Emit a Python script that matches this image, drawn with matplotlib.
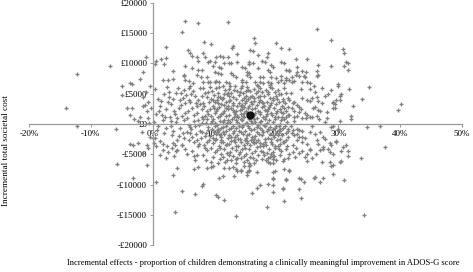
import numpy as np
import matplotlib
matplotlib.use("Agg")
import matplotlib.pyplot as plt

# ---- data: (incremental effect %, incremental cost £) ----
west_pts = [(-12.3, 8300), (-14.0, 2600), (-6.9, 9600), (-5.0, 6300), (-3.4, 6600), (-3.6, 6800),
            (-2.1, 7400), (-1.5, 8600), (-1.1, 11100), (-4.9, 4800), (-4.2, 2600), (-3.4, 2600),
            (-3.6, 1500), (-3.1, 800), (-1.5, 3000), (-1.0, 2100), (-2.4, 500), (-0.8, 1000),
            (-0.6, 100), (-1.5, 4500), (-1.1, 5300), (-0.8, 3600), (-2.1, 1200), (-1.3, 3100),
            (-0.4, 6200), (-0.3, 2700),
            (-12.3, -300), (-6.0, -800), (-5.8, -6600), (-3.2, -8900), (-1.0, -6800), (-3.7, -3300),
            (-2.4, -3100), (-1.0, -3500), (-3.2, -3500), (-1.5, -4800), (-0.8, -4000), (-1.8, -1300),
            (-0.5, -2200)]

north_pts = [(0.3, 9900), (0.5, 10400), (1.3, 10700), (2.1, 10900), (1.9, 9900), (2.1, 12700),
             (5.2, 17000), (4.8, 15200), (7.4, 16700), (12.1, 16900), (8.3, 13600), (9.5, 13200),
             (12.9, 12900), (12.8, 12600), (5.7, 12300), (6.1, 11700), (6.3, 11200), (8.2, 11700),
             (7.1, 11100), (7.3, 10400), (8.4, 11100), (9.0, 10200), (5.3, 9600), (5.0, 8100),
             (5.0, 7900), (6.3, 9300), (3.2, 8800), (1.6, 7300), (2.4, 7300), (3.2, 7400), (5.3, 7300),
             (5.8, 7100), (6.5, 6800), (7.4, 8900), (7.9, 8900), (7.1, 8100), (7.8, 7800), (8.7, 7800),
             (8.2, 6900), (9.0, 6900),
             (16.3, 14200), (16.5, 13400), (15.7, 12200), (16.2, 12100), (20.0, 13400), (20.7, 12600),
             (22.0, 12400), (17.1, 11400), (18.7, 11700), (13.7, 11600), (18.4, 11100), (10.2, 11100),
             (10.8, 11200), (11.3, 11100), (12.1, 11100), (9.2, 10400), (10.0, 10200), (13.7, 10200),
             (15.5, 10200), (16.2, 10100), (17.6, 10400), (18.1, 10200), (20.8, 10200), (21.2, 10100),
             (11.6, 10100), (12.3, 10100), (12.6, 10100), (9.7, 9600), (10.7, 9400), (11.0, 9300),
             (14.4, 9400), (14.9, 9300), (15.5, 9900), (17.0, 9300), (19.1, 9800), (19.5, 9400),
             (18.6, 8900), (18.9, 8600), (21.5, 8900), (22.0, 8800), (10.0, 8600), (10.5, 8400),
             (11.1, 8300), (12.6, 8400), (12.9, 8100), (13.4, 7800), (15.2, 8600), (15.5, 8400),
             (15.8, 7800), (15.2, 8100), (17.3, 7800), (17.9, 7800), (19.2, 7800), (19.9, 7600),
             (20.8, 7900), (21.5, 7300), (21.6, 7600), (9.2, 6900), (10.0, 6900), (10.3, 7100),
             (10.7, 6900), (11.8, 6900), (12.4, 6800), (14.4, 6900), (14.5, 7300), (15.0, 6900),
             (16.5, 6900), (17.4, 6900), (17.8, 6800), (18.6, 6900), (19.2, 6800), (20.2, 6900),
             (20.8, 7300), (21.3, 6800),
             (26.5, 15700), (28.9, 13900), (30.7, 12400), (30.9, 11700), (31.3, 10200), (31.5, 10100),
             (31.0, 9600), (31.5, 8900), (28.8, 9600), (26.7, 9800), (25.0, 10700), (23.1, 10700),
             (23.4, 9400), (22.1, 8900), (23.3, 8600), (24.2, 8800), (24.7, 8600), (26.5, 8800),
             (26.7, 8100), (26.5, 7900), (22.5, 7800), (23.1, 8100), (23.7, 7900), (24.4, 7900),
             (24.6, 7800), (22.1, 7300), (22.5, 6900), (22.9, 7100), (24.1, 6900), (25.0, 6900),
             (25.4, 6800), (29.9, 6600)]

east_pts = [(34.9, 6100), (31.7, 5800), (33.9, 4100), (40.2, 3300), (39.6, 2300), (32.3, 3000),
            (32.1, 1300), (32.0, 800), (34.7, -500), (36.8, -300), (30.4, 5000), (29.9, 6300),
            (28.8, 5600), (28.4, 5000), (29.6, 4000), (29.2, 3500), (29.1, 2600), (29.4, 2600),
            (27.9, 300), (28.8, -500), (30.2, 4600), (30.0, -800), (29.2, -300), (29.4, 3300),
            (29.1, 3600), (30.2, 4000), (25.4, 5800), (26.2, 5300), (26.5, 4500), (24.2, 4300),
            (24.9, 4000), (25.4, 3800), (25.8, 4300), (26.7, 3800), (27.3, 3500), (26.3, 2800),
            (26.7, 2300), (27.1, 2100), (22.1, 4000), (22.6, 3500), (22.9, 3600), (23.3, 3100),
            (23.6, 2800), (22.5, 2600), (22.9, 2100), (23.7, 2000), (24.6, 1800), (25.0, 1500),
            (22.1, 1500), (22.9, 1200), (23.4, 1300), (24.1, 1000), (24.7, 1000), (25.4, 1200),
            (25.8, 1200), (26.5, 1300), (28.1, 1000), (30.2, 500), (22.6, -1000), (23.3, -800),
            (23.7, -1000), (24.2, -1200), (22.5, -1500), (22.9, -1800), (23.4, -1700), (24.1, -2100),
            (24.6, -2300), (23.3, -2600), (24.1, -3000), (22.6, -3500), (25.4, -1300), (26.2, -1700),
            (27.0, -1300), (27.5, -2100), (26.5, -2600), (28.6, -3100), (29.7, -3000), (30.7, -3800),
            (31.3, -3500), (27.5, -3800), (27.0, -4300), (28.6, -4600), (25.4, -4300), (24.6, -5500),
            (23.7, -4800), (22.6, -4600), (25.8, -5600), (27.3, -6300), (28.6, -6300), (30.2, -6300),
            (37.5, -3800), (33.7, -5600), (31.5, -4500), (31.5, -5300), (30.4, -4500), (30.5, -6100),
            (29.2, -5000), (25.0, -6100), (24.9, -5000), (24.2, -4500), (25.5, -4100), (27.6, -4100),
            (28.4, -4100), (29.6, -2800), (28.8, -3500), (26.8, -3300), (23.1, -4000)]

south_pts = [(30.9, -9300), (29.1, -6800), (29.1, -8300), (26.0, -8900), (27.5, -8900), (27.1, -9600),
             (34.2, -15000), (23.9, -9100), (24.4, -9600), (23.7, -10700), (23.9, -12200),
             (21.2, -12700), (18.4, -13700), (13.5, -15200), (21.5, -9100), (21.0, -10700),
             (19.4, -9100), (19.5, -10100), (18.7, -9900), (22.0, -7600), (21.2, -7400),
             (19.7, -7800), (18.9, -6400), (19.4, -6400), (17.4, -10100), (16.8, -10600),
             (16.0, -11400), (15.5, -7800), (15.3, -8400), (16.8, -7900), (15.7, -6800),
             (21.5, -4100), (22.0, -5000), (21.2, -5800), (21.8, -5600), (19.7, -3600), (20.4, -4100),
             (19.1, -5000), (19.5, -5300), (18.7, -5600), (19.4, -5800), (13.4, -5800), (14.2, -5600),
             (14.7, -5300), (13.4, -7400), (14.2, -7600), (14.7, -6900), (15.5, -6400),
             (0.5, -9600), (3.6, -14500), (3.2, -8400), (3.9, -7300), (4.8, -11100), (6.9, -11600),
             (8.1, -9900), (8.0, -10300), (6.6, -7400), (7.3, -7100), (8.7, -7300), (9.5, -7100),
             (9.7, -6900), (10.3, -11700), (10.5, -12100), (11.6, -12600), (10.7, -8900),
             (11.3, -8600), (11.5, -7300), (12.3, -7300), (12.9, -7100), (13.2, -8600), (13.6, -7800),
             (14.2, -7800), (15.3, -7900), (15.5, -7600), (15.5, -6900), (19.4, -8900), (19.5, -7900),
             (19.5, -11200), (21.0, -10600), (21.5, -9300), (22.0, -7800), (23.7, -8900),
             (26.2, -8800), (28.9, -6900), (0.2, -3100), (0.6, -3600), (0.0, -2300), (1.1, -2800),
             (1.6, -3300), (2.3, -3600), (3.1, -4000), (3.7, -4500), (3.2, -3100), (4.7, -3500),
             (2.1, -5600)]

core_left_pts = [(0.3, 5800), (0.8, 4200), (1.2, 2900), (0.5, 1700), (1.6, 600), (0.9, -400),
                 (1.8, -1500), (0.4, -2300), (1.3, 3800), (1.9, 4900), (0.7, -1000), (1.5, 1500),
                 (1.1, -5200), (1.7, -4300), (0.2, 300),
                 (2.3, 6100), (2.6, 4500), (3.0, 3300), (3.4, 2200), (2.8, 1100), (3.7, 300),
                 (2.2, -700), (3.1, -1800), (3.9, -2600), (2.5, -4600), (3.5, -5300), (3.8, 5200),
                 (2.1, 2500), (3.3, 4100), (2.9, -300), (3.6, 1600), (2.4, 3600), (3.2, -1100),
                 (4.1, 6000), (4.5, 5200), (4.9, 4300), (5.3, 3500), (4.3, 2700), (5.7, 2100),
                 (4.7, 1400), (5.1, 700), (5.9, -100), (4.4, -600), (5.5, -1300), (4.2, -2000),
                 (5.8, -2700), (4.8, -3400), (5.2, -4200), (5.6, -5000), (4.6, 3100), (5.4, 4800),
                 (5.0, 5700), (4.0, 1000), (5.9, 3900), (4.9, -1500), (5.3, 1900),
                 (6.1, 6200), (6.5, 5500), (6.9, 4700), (7.3, 4000), (7.7, 3300), (6.3, 2600),
                 (7.1, 1900), (7.9, 1200), (6.7, 500), (7.5, -200), (6.2, -900), (7.0, -1600),
                 (7.8, -2300), (6.6, -3000), (7.4, -3700), (6.4, -4500), (7.2, -5200), (6.8, -6000),
                 (7.6, 5900), (6.0, 3600), (7.9, 4600), (6.6, 1500), (7.3, 600), (6.9, -400),
                 (7.7, -1200), (6.3, -2200), (7.1, 2900), (7.5, -3300), (6.1, -500),
                 (8.1, 6000), (8.4, 5100), (8.8, 4400), (9.1, 3700), (8.3, 2900), (8.7, 2200),
                 (9.0, 1600), (8.2, 900), (8.6, 200), (8.9, -500), (8.0, -1300), (8.5, -2000),
                 (9.1, -2700), (8.3, -3500), (8.8, -4300), (8.1, -5100), (8.6, -5900), (9.0, 5300),
                 (8.4, 1300), (8.9, -1000), (8.2, 3500), (8.7, -3000),
                 (2.7, 5300), (4.4, 4000), (6.2, 4900), (8.0, 2500), (3.6, -3400), (5.0, -2300),
                 (6.0, -1500), (7.9, 200), (2.0, 1200), (5.6, 1000), (7.0, 3400), (8.6, -1500),
                 (4.0, -4300), (6.6, -5300), (8.4, -4000), (1.0, 2100), (3.0, 500), (5.8, 5900),
                 (7.2, -2600), (8.8, 800)]

core_pts = [(9.3, 6100), (9.6, 5400), (9.9, 4800), (9.4, 4200), (10.1, 3600), (9.7, 3000), (9.3, 2400),
            (10.0, 1900), (9.5, 1300), (9.8, 800), (9.4, 200), (10.1, -300), (9.6, -900), (9.9, -1400),
            (9.3, -2000), (10.0, -2600), (9.7, -3200), (9.4, -3900), (10.1, -4600), (9.8, -5400),
            (9.5, -6200), (9.9, 2700), (9.6, 500), (10.2, -1700),
            (10.3, 5900), (10.6, 5200), (10.9, 4500), (10.4, 3900), (11.1, 3300), (10.7, 2800),
            (10.3, 2100), (11.0, 1600), (10.5, 1100), (10.8, 500), (10.4, -100), (11.1, -600),
            (10.6, -1200), (10.9, -1800), (10.3, -2400), (11.0, -3000), (10.7, -3600), (10.4, -4300),
            (11.1, -5000), (10.8, -5800), (10.5, -6500), (11.2, 4100), (10.8, 1300), (10.5, -800),
            (11.0, -2200), (10.6, 3400),
            (11.3, 6300), (11.7, 5600), (12.0, 4900), (11.4, 4300), (11.9, 3700), (11.6, 3100),
            (12.1, 2500), (11.3, 1900), (11.8, 1400), (11.5, 700), (12.0, 100), (11.4, -500),
            (11.9, -1100), (11.6, -1700), (12.1, -2300), (11.3, -2900), (11.8, -3500), (11.5, -4100),
            (12.0, -4800), (11.4, -5500), (11.7, -6300), (12.2, 3000), (11.5, 2200), (11.9, -400),
            (11.3, 400), (12.1, 5200),
            (12.3, 5800), (12.7, 5100), (13.0, 4400), (12.4, 3800), (12.9, 3200), (12.6, 2600),
            (13.1, 2000), (12.3, 1500), (12.8, 900), (12.5, 300), (13.0, -300), (12.4, -900),
            (12.9, -1500), (12.6, -2100), (13.1, -2700), (12.3, -3300), (12.8, -3900), (12.5, -4600),
            (13.0, -5300), (12.7, -6000), (12.4, 4600), (13.1, 1200), (12.6, -600), (12.9, 2300),
            (12.3, -1900), (13.0, 3500), (12.5, 6300),
            (13.3, 6200), (13.7, 5500), (14.0, 4800), (13.4, 4100), (13.9, 3500), (13.6, 2900),
            (14.1, 2300), (13.3, 1700), (13.8, 1100), (13.5, 600), (14.0, 0), (13.4, -600),
            (13.9, -1200), (13.6, -1800), (14.1, -2400), (13.3, -3000), (13.8, -3600), (13.5, -4300),
            (14.0, -5000), (13.7, -5700), (13.4, -6400), (14.2, 3000), (13.6, 1400), (13.9, -300),
            (13.3, -2100), (14.1, 5300), (13.7, 300),
            (14.3, 5900), (14.6, 5200), (15.0, 4600), (14.4, 4000), (14.9, 3400), (14.7, 2800),
            (15.1, 2200), (14.3, 1700), (14.8, 1200), (14.5, 700), (15.0, 100), (14.4, -500),
            (14.9, -1100), (14.6, -1700), (15.1, -2300), (14.3, -2900), (14.8, -3500), (14.5, -4200),
            (15.0, -4900), (14.7, -6200), (14.4, 2500), (15.1, 3800), (14.6, -200), (14.9, -2600),
            (14.3, 900), (15.0, 5500), (14.7, 1900),
            (15.3, 6100), (15.7, 5400), (16.0, 4700), (15.4, 4100), (15.9, 3600), (15.6, 3000),
            (16.1, 2400), (15.3, 1900), (15.8, 1300), (15.5, 800), (16.0, 200), (15.4, -400),
            (15.9, -1000), (15.6, -1600), (16.1, -2200), (15.3, -2800), (15.8, -3400), (15.5, -4100),
            (16.0, -4800), (15.7, -5500), (15.4, 2600), (16.1, 3300), (15.6, -700), (15.9, 500),
            (15.3, -1900), (16.2, -3000), (15.7, 4400),
            (16.3, 5800), (16.7, 5100), (17.0, 4400), (16.4, 3800), (16.9, 3200), (16.6, 2700),
            (17.1, 2100), (16.3, 1500), (16.8, 1000), (16.5, 400), (17.0, -200), (16.4, -800),
            (16.9, -1400), (16.6, -2000), (17.1, -2600), (16.3, -3200), (16.8, -3800), (16.5, -4500),
            (17.0, -5200), (16.7, -5900), (16.4, -6500), (17.2, 3700), (16.6, 1800), (16.9, -500),
            (16.3, -2400), (17.1, 6200),
            (17.3, 6000), (17.7, 5300), (18.0, 4600), (17.4, 4000), (17.9, 3400), (17.6, 2800),
            (18.1, 2300), (17.3, 1700), (17.8, 1100), (17.5, 500), (18.0, -100), (17.4, -700),
            (17.9, -1300), (17.6, -1900), (18.1, -2500), (17.3, -3100), (17.8, -3700), (17.5, -4400),
            (18.0, -5100), (17.7, -5800), (17.4, 2000), (18.1, 800), (17.6, -1000), (17.9, -3300),
            (17.3, 4700),
            (18.3, 5700), (18.7, 5000), (19.0, 4300), (18.4, 3700), (18.9, 3100), (18.6, 2500),
            (19.1, 1900), (18.3, 1300), (18.8, 700), (18.5, 100), (19.0, -500), (18.4, -1100),
            (18.9, -1700), (18.6, -2300), (19.1, -2900), (18.3, -3500), (18.8, -4100), (18.5, -4800),
            (19.0, -5500), (18.7, -6200), (18.4, 2200), (19.1, 3500), (18.6, -800), (18.9, 6100),
            (19.3, 6000), (19.7, 5300), (20.0, 4600), (19.4, 3900), (19.9, 3300), (19.6, 2700),
            (20.1, 2100), (19.3, 1500), (19.8, 900), (19.5, 300), (20.0, -300), (19.4, -900),
            (19.9, -1500), (19.6, -2100), (20.1, -2700), (19.3, -3300), (19.8, -4000), (19.5, -4700),
            (20.0, -6000), (19.7, 1200), (19.4, -1800), (20.1, 4100),
            (20.3, 5600), (20.7, 4900), (21.0, 4200), (20.4, 3600), (20.9, 3000), (20.6, 2400),
            (21.1, 1800), (20.3, 1200), (20.8, 600), (20.5, 0), (21.0, -600), (20.4, -1200),
            (20.9, -1800), (20.6, -2400), (21.1, -3000), (20.3, -3600), (20.8, -4400), (20.5, -5200),
            (21.0, -6100), (20.7, 2000), (20.4, -400),
            (21.3, 5900), (21.6, 5100), (21.9, 4300), (21.4, 3500), (21.8, 2800), (21.5, 2100),
            (21.9, 1500), (21.3, 900), (21.7, 300), (21.4, -300), (21.8, -900), (21.5, -1500),
            (21.9, -2200), (21.3, -2900), (21.7, -3600), (21.5, 1200), (21.8, -1100)]

core_fill_pts = [(9.8, 3900), (10.4, 2500), (11.3, -1400), (12.2, 700), (12.7, -2800), (13.5, 2100),
                 (14.2, -1400), (14.8, 4300), (15.2, 200), (15.9, -2600), (16.4, 900), (17.2, -1700),
                 (17.6, 3600), (18.2, -400), (18.8, 2800), (19.2, -2400), (19.9, 1800), (20.6, -900),
                 (21.2, 2600), (10.9, -4000), (12.4, -5200), (14.1, -4600), (16.2, -5600),
                 (17.9, -4700), (19.6, -5300), (11.6, 5000), (13.2, 5600), (15.4, 5600), (17.1, 5500),
                 (18.7, 5300), (20.4, 5000), (10.1, 200), (11.8, 2600), (13.1, -1100), (14.6, 1400),
                 (16.1, 1700), (17.4, 300), (18.5, 1600), (19.8, -600), (20.9, 1100), (9.7, -2300),
                 (12.0, -3300), (13.8, -2500), (15.2, -3200), (16.7, -3000), (18.2, -2900),
                 (20.2, -1900), (21.5, -2600), (10.6, 4500), (12.5, 4000), (14.4, 3100), (16.3, 4300),
                 (18.0, 3000), (19.5, 4300), (21.1, 3800), (11.1, -2700), (14.9, -3900), (17.3, -3600),
                 (20.6, -3300), (13.5, -3700), (10.7, 6100), (14.5, 6300), (16.9, 6400), (19.0, 6500),
                 (12.0, -5900), (15.2, -5900), (18.3, -6000),
                 (22.8, 500), (24.0, 2400), (25.7, -300), (26.9, 800), (23.6, -2200), (25.0, -3300),
                 (27.8, -2400), (22.3, 5100), (24.0, 5800), (26.0, 6200), (27.9, 4600), (23.0, -5400),
                 (26.4, -5000), (28.2, 2000), (27.4, 6000), (22.4, -300), (25.9, 2700)]

mean_effect = [15.7]
mean_cost = [1500]

x_ticks = [-20, -10, 0, 10, 20, 30, 40, 50]
x_tick_labels = ["-20%", "-10%", "0%", "10%", "20%", "30%", "40%", "50%"]
y_ticks = [-20000, -15000, -10000, -5000, 0, 5000, 10000, 15000, 20000]
y_tick_labels = ["-£20000", "-£15000", "-£10000", "-£5000", "£0", "£5000", "£10000", "£15000", "£20000"]

x_label = "Incremental effects - proportion of children demonstrating a clinically meaningful improvement in ADOS-G score"
y_label = "Incremental total societal cost"

# ---- plotting ----
plt.rcParams['font.family'] = ['Liberation Serif', 'DejaVu Serif']

W, H = 473, 272
fig = plt.figure(figsize=(W / 100, H / 100), dpi=100)
ax = fig.add_axes([29 / W, 1 - 245 / H, (462 - 29) / W, (245 - 3) / H])

all_pts = np.array(west_pts + north_pts + east_pts + south_pts + core_left_pts + core_pts
                   + core_fill_pts)
ax.plot(all_pts[:, 0], all_pts[:, 1], linestyle='none', marker='+', markersize=2.8,
        markeredgewidth=0.95, color='#828282', clip_on=False)
ax.plot(mean_effect, mean_cost, linestyle='none', marker='o', markersize=5,
        color='#111111', clip_on=False)

ax.set_xlim(-20, 50)
ax.set_ylim(-20000, 20000)

axis_col = '#9a9a9a'
for s in ['top', 'right']:
    ax.spines[s].set_visible(False)
ax.spines['left'].set_position(('data', 0))
ax.spines['bottom'].set_position(('data', 0))
for s in ['left', 'bottom']:
    ax.spines[s].set_color(axis_col)
    ax.spines[s].set_linewidth(0.9)

ax.set_xticks(x_ticks)
ax.set_xticklabels(x_tick_labels)
ax.set_yticks(y_ticks)
ax.set_yticklabels(y_tick_labels)
ax.tick_params(axis='both', direction='out', length=2.5, width=0.7, color=axis_col,
               labelsize=6.5, labelcolor='black', pad=1.5)
ax.patch.set_alpha(0)

fig.text(263 / W, 1 - 263 / H, x_label, ha='center', va='center', fontsize=6.1)
fig.text(6 / W, 1 - 151 / H, y_label, ha='center', va='center', rotation=90, fontsize=6.6)

fig.savefig("out.png", dpi=100)
